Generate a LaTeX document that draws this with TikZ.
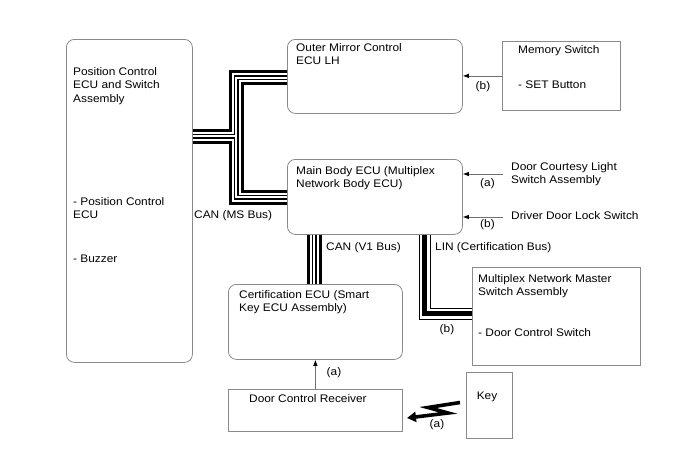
\documentclass[tikz,border=0pt]{standalone}
\usepackage{fontspec}
\setmainfont{Liberation Sans}[FakeStretch=1.08]
\usetikzlibrary{arrows.meta,calc}
\definecolor{boxgray}{HTML}{8A8A8A}
\definecolor{arrgray}{HTML}{707070}
\begin{document}
\begin{tikzpicture}[x=1pt,y=-1pt,
  every node/.style={font=\fontsize{11}{13.5}\selectfont, inner sep=0pt},
  rbox/.style={draw=boxgray, line width=0.8pt, rounded corners=8pt, anchor=north west, minimum width=#1},
  sbox/.style={draw=boxgray, line width=0.8pt, anchor=north west, minimum width=#1},
  txt/.style={anchor=base west, align=left},
  lbl/.style={anchor=center},
  sigarrow/.style={draw=arrgray, line width=0.7pt, -{Latex[length=6pt,width=4.5pt,color=black]}},
  zap/.style={draw=black, line width=3.6pt, line join=miter, -{Triangle[length=9pt,width=10pt]}}
]
\useasboundingbox (0,0) rectangle (688,463);
% boxes
\node[rbox=126, minimum height=323] (pos) at (66,39) {};
\node[rbox=175, minimum height=74] (mirror) at (287,39) {};
\node[sbox=118, minimum height=69] (mem) at (502,41) {};
\node[rbox=175, minimum height=75] (main) at (287,159) {};
\node[rbox=174, minimum height=75] (cert) at (228,284) {};
\node[sbox=174, minimum height=42] (dcr) at (228,389) {};
\node[sbox=46, minimum height=66] (key) at (466,372) {};
\node[sbox=168, minimum height=98] (mnm) at (472,267) {};
% bus coordinates
\coordinate (msL) at (pos.east |- 0,136);
\coordinate (msJ) at (236,136);
\coordinate (msU) at (236,77.5);
\coordinate (msD) at (236,197);
\coordinate (v1T) at (main.south -| 314,0);
\coordinate (linT) at (main.south -| 424.5,0);
\coordinate (linC) at (424.5,313.5);
% CAN buses (four wires)
\foreach \w/\c in {15/black,9/white,5/black,2/white}{
  \draw[line width=\w pt, \c, line join=miter] (msL) -- (msJ) -- (msU) -- (msU -| mirror.west);
  \draw[line width=\w pt, \c, line join=miter] (msL) -- (msJ) -- (msD) -- (msD -| main.west);
  \draw[line width=\w pt, \c] (v1T) -- (v1T |- cert.north);
}
% LIN bus (three wires)
\foreach \w/\c in {12/black,10/white,5/black}{
  \draw[line width=\w pt, \c, line join=miter] (linT) -- (linC) -- (linC -| mnm.west);
}
% texts (base = baseline of last line)
\node[txt] (posT) at (73,102) {Position Control\\ECU and Switch\\Assembly};
\node[txt] (posT2) at (73,218.5) {- Position Control\\ECU};
\node[txt] (posT3) at (73,262) {- Buzzer};
\node[txt] (mirT) at (296,64.5) {Outer Mirror Control\\ECU LH};
\node[txt] (memT) at (518,53) {Memory Switch};
\node[txt] (memT2) at (518,88) {- SET Button};
\node[txt] (mainT) at (296,187.5) {Main Body ECU (Multiplex\\Network Body ECU)};
\node[txt] (dclT) at (511,183.5) {Door Courtesy Light\\Switch Assembly};
\node[txt] (ddlT) at (511,219) {Driver Door Lock Switch};
\node[txt] (certT) at (239,311.5) {Certification ECU (Smart\\Key ECU Assembly)};
\node[txt] (dcrT) at (249,402) {Door Control Receiver};
\node[txt] (mnmT) at (478,295.5) {Multiplex Network Master\\Switch Assembly};
\node[txt] (mnmT2) at (478,336) {- Door Control Switch};
\node[lbl] (keyT) at (487,397) {Key};
\node[txt] (canms) at (194,218) {CAN (MS Bus)};
\node[txt] (canv1) at (326,250) {CAN (V1 Bus)};
\node[txt] (lin) at (435,250) {LIN (Certification Bus)};
\node[lbl] (lbm) at (483,87) {(b)};
\node[lbl] (la1) at (487.5,184) {(a)};
\node[lbl] (lb1) at (487.5,225) {(b)};
\node[lbl] (laC) at (334,373) {(a)};
\node[lbl] (lbL) at (447,330) {(b)};
\node[lbl] (laK) at (437,425) {(a)};
% signal arrows
\coordinate (dcl) at (503,174);
\coordinate (ddl) at (503,217);
\draw[sigarrow] (mem.west) -- (mem.west -| mirror.east);
\draw[sigarrow] (dcl) -- (dcl -| main.east);
\draw[sigarrow] (ddl) -- (ddl -| main.east);
\draw[sigarrow] (dcr.north) -- (cert.south);
% wireless
\coordinate (z0) at (460,402.5);
\coordinate (z1) at (428,407.5);
\coordinate (z2) at (448,413);
\coordinate (z3) at (407,418);
\draw[zap] (z0) -- (z1) -- (z2) -- (z3);
\end{tikzpicture}
\end{document}
